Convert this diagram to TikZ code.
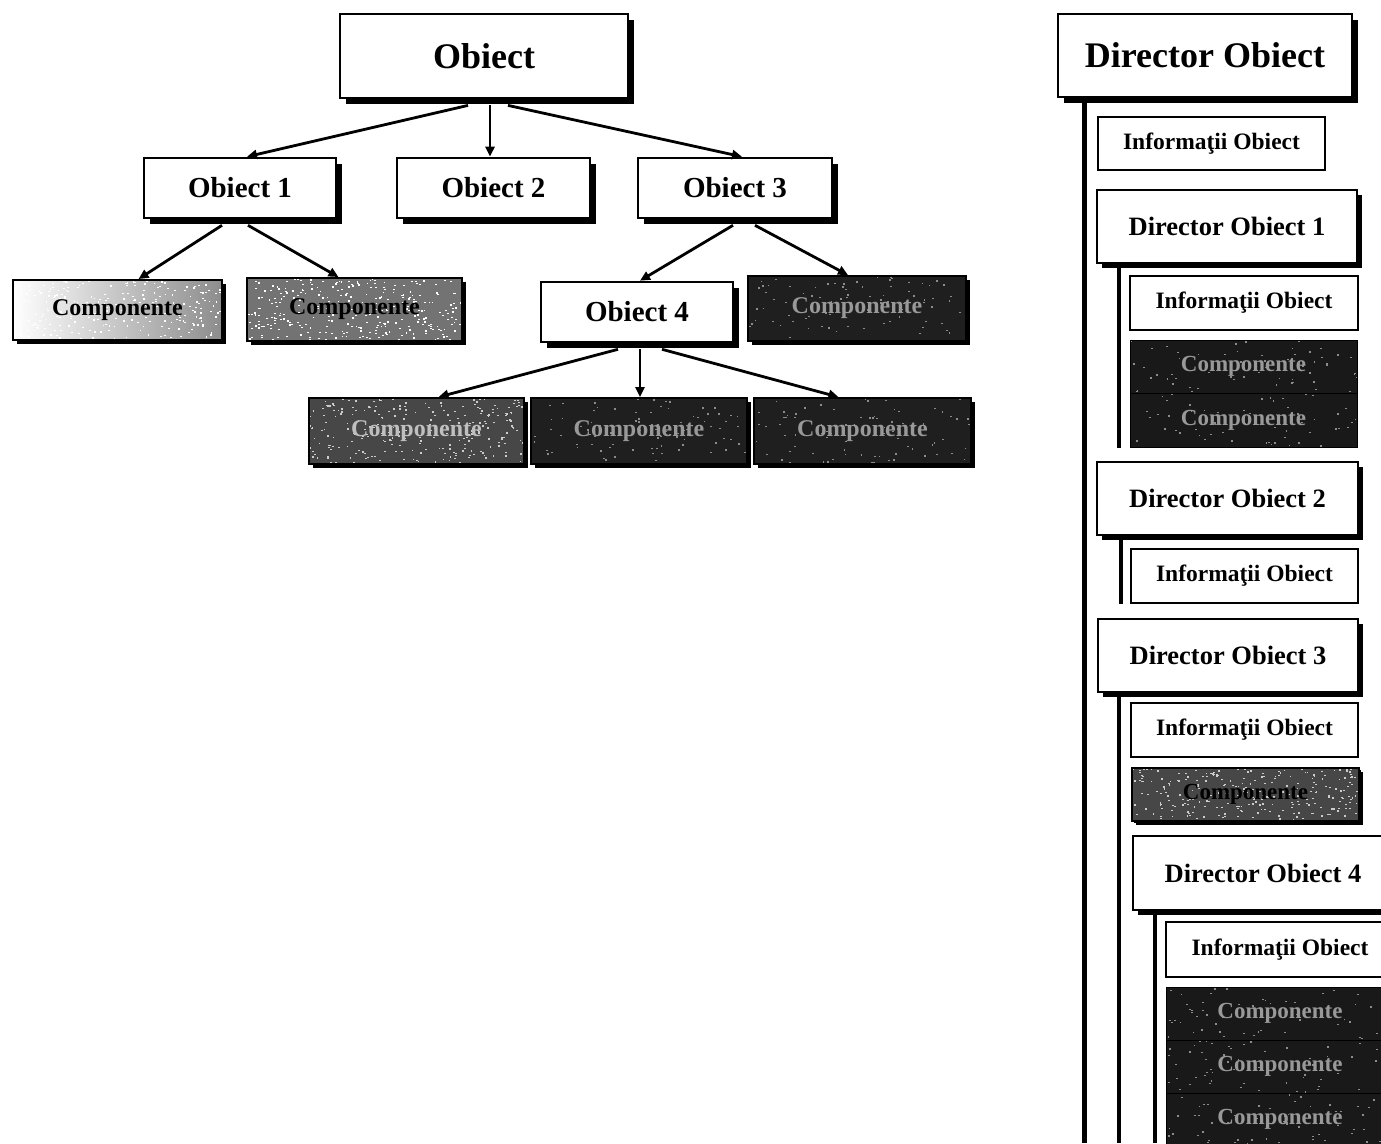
\documentclass[tikz,border=0pt]{standalone}
\usepackage{fontspec}
\setmainfont{Liberation Serif}
\usetikzlibrary{arrows.meta,shadows,calc}

\tikzset{
  x=1pt, y=-1pt,
  base/.style={rectangle, draw=black, inner sep=0pt, align=center, font=\bfseries},
  shade/.style={drop shadow={shadow xshift=#1, shadow yshift=-#1, fill=black, opacity=1}},
  title/.style={base, line width=2.8pt, fill=white, shade=6pt,
                font=\fontsize{36}{40}\selectfont\bfseries},
  objbox/.style={base, line width=2.6pt, fill=white, shade=6pt,
                 font=\fontsize{29}{32}\selectfont\bfseries},
  dirbox/.style={base, line width=1.9pt, fill=white, shade=5pt,
                 font=\fontsize{26.5}{30}\selectfont\bfseries},
  infobox/.style={base, line width=1.9pt, fill=white,
                  font=\fontsize{23.5}{26}\selectfont\bfseries},
  speckle/.style 2 args={path picture={
      \foreach \k in {1,...,#1}{
        \fill[#2] let \p1=(path picture bounding box.south west),
                      \p2=(path picture bounding box.north east) in
          ({\x1+rnd*(\x2-\x1)},{\y1+rnd*(\y2-\y1)}) rectangle ++(1.8pt,1.3pt);
      }}},
  compbox/.style={base, line width=1.9pt, shade=4pt,
                  font=\fontsize{24}{26}\selectfont\bfseries},
  complight/.style={compbox, left color=white, right color=black!45,
                    speckle={260}{white}, text=black},
  compmid/.style={compbox, fill=black!55, speckle={320}{white}, text=black},
  compgrey/.style={compbox, fill=black!72, speckle={260}{white!80!black}, text=black!25},
  compdark/.style={compbox, fill=black!88, speckle={90}{black!45}, text=black!40},
  stack/.style={base, line width=1pt, fill=black!90, speckle={60}{black!45},
                text=black!40, font=\fontsize{23}{25}\selectfont\bfseries},
  arr/.style={line width=2.8pt, -{Triangle[length=10pt,width=9pt]}},
  trunk/.style={line width=#1},
}

\begin{document}
\begin{tikzpicture}
\pgfmathsetseed{4711}
\useasboundingbox (0,0) rectangle (1381,1143);
\clip (0,0) rectangle (1381,1143);
\fill[white] (0,0) rectangle (1381,1143);
\coordinate (bot) at (0,1143);

% ---------- tree of objects ----------
\node[title,  minimum width=288pt, minimum height=84pt] (obj) at (484,56) {Obiect};
\node[objbox, minimum width=192pt, minimum height=60pt] (o1) at (240,188) {Obiect 1};
\node[objbox, minimum width=193pt, minimum height=60pt] (o2) at (493.5,188) {Obiect 2};
\node[objbox, minimum width=194pt, minimum height=60pt] (o3) at (735,188) {Obiect 3};
\node[objbox, minimum width=192pt, minimum height=60pt] (o4) at (637,312) {Obiect 4};

\node[complight, minimum width=209pt, minimum height=60pt] (c1) at (117.5,310) {Componente};
\node[compmid,   minimum width=215pt, minimum height=63pt] (c2) at (354.5,309.5) {Componente};
\node[compdark,  minimum width=218pt, minimum height=65pt] (c3) at (857,308.5) {Componente};
\node[compgrey,  minimum width=215pt, minimum height=66pt] (c4) at (416.5,431) {Componente};
\node[compdark,  minimum width=216pt, minimum height=66pt] (c5) at (639,431) {Componente};
\node[compdark,  minimum width=217pt, minimum height=66pt] (c6) at (862.5,431) {Componente};

\draw[arr] ($(obj.south)+(-16,6)$) -- ($(o1.north)+(7,0)$);
\draw[arr] ($(obj.south)+(6,6)$)   -- ($(o2.north)+(-3.5,0)$);
\draw[arr] ($(obj.south)+(24,6)$)  -- ($(o3.north)+(7,0)$);

\draw[arr] ($(o1.south)+(-18,6)$) -- ($(c1.north)+(21,0)$);
\draw[arr] ($(o1.south)+(8,6)$)   -- ($(c2.north)+(-16,0)$);

\draw[arr] ($(o3.south)+(-2,6)$)  -- ($(o4.north)+(3,0)$);
\draw[arr] ($(o3.south)+(20,6)$)  -- ($(c3.north)+(-9,0)$);

\draw[arr] ($(o4.south)+(-19,6)$) -- ($(c4.north)+(22,0)$);
\draw[arr] ($(o4.south)+(3,6)$)   -- ($(c5.north)+(1,0)$);
\draw[arr] ($(o4.south)+(25,6)$)  -- ($(c6.north)+(-24,0)$);

% ---------- directory view ----------
\node[title, minimum width=294pt, minimum height=83pt] (dobj) at (1205,55.5) {Director Obiect};
\draw[trunk=4.5pt] ($(dobj.south west)+(28,0)$) coordinate (t0) -- (t0 |- bot);

\node[infobox, minimum width=227pt, minimum height=53pt] (i0) at (1211.5,143.5) {Informaţii Obiect};

\node[dirbox,  minimum width=260pt, minimum height=73pt] (d1) at (1227,226.5) {Director Obiect 1};
\node[infobox, minimum width=228pt, minimum height=54pt] (i1) at (1244,303) {Informaţii Obiect};
\node[stack,   minimum width=227pt, minimum height=53pt] (s1a) at (1243.5,366.5) {Componente};
\node[stack,   minimum width=227pt, minimum height=54pt] (s1b) at (1243.5,420) {Componente};
\draw[trunk=3.2pt] ($(d1.south west)+(23,0)$) coordinate (t1) -- (t1 |- s1b.south);

\node[dirbox,  minimum width=261pt, minimum height=73pt] (d2) at (1227.5,498.5) {Director Obiect 2};
\node[infobox, minimum width=227pt, minimum height=54pt] (i2) at (1244.5,576) {Informaţii Obiect};
\draw[trunk=3.2pt] ($(d2.south west)+(25,0)$) coordinate (t2) -- (t2 |- i2.south);

\node[dirbox,  minimum width=260pt, minimum height=73pt] (d3) at (1228,655.5) {Director Obiect 3};
\node[infobox, minimum width=227pt, minimum height=54pt] (i3) at (1244.5,730) {Informaţii Obiect};
\node[compgrey, line width=1.4pt, shade=2pt, minimum width=227pt, minimum height=53pt,
      font=\fontsize{23}{25}\selectfont\bfseries, text=black] (s3) at (1245.5,794.5) {Componente};
\draw[trunk=3.2pt] ($(d3.south west)+(22,0)$) coordinate (t3) -- (t3 |- bot);

\node[dirbox,  minimum width=260pt, minimum height=74pt] (d4) at (1263,873) {Director Obiect 4};
\node[infobox, minimum width=228pt, minimum height=55pt] (i4) at (1280,949.5) {Informaţii Obiect};
\node[stack,   minimum width=228pt, minimum height=53pt] (s4a) at (1280,1013.5) {Componente};
\node[stack,   minimum width=228pt, minimum height=53pt] (s4b) at (1280,1066.5) {Componente};
\node[stack,   minimum width=228pt, minimum height=53pt] (s4c) at (1280,1119.5) {Componente};
\draw[trunk=3.2pt] ($(d4.south west)+(23,0)$) coordinate (t4) -- (t4 |- bot);
\end{tikzpicture}
\end{document}
